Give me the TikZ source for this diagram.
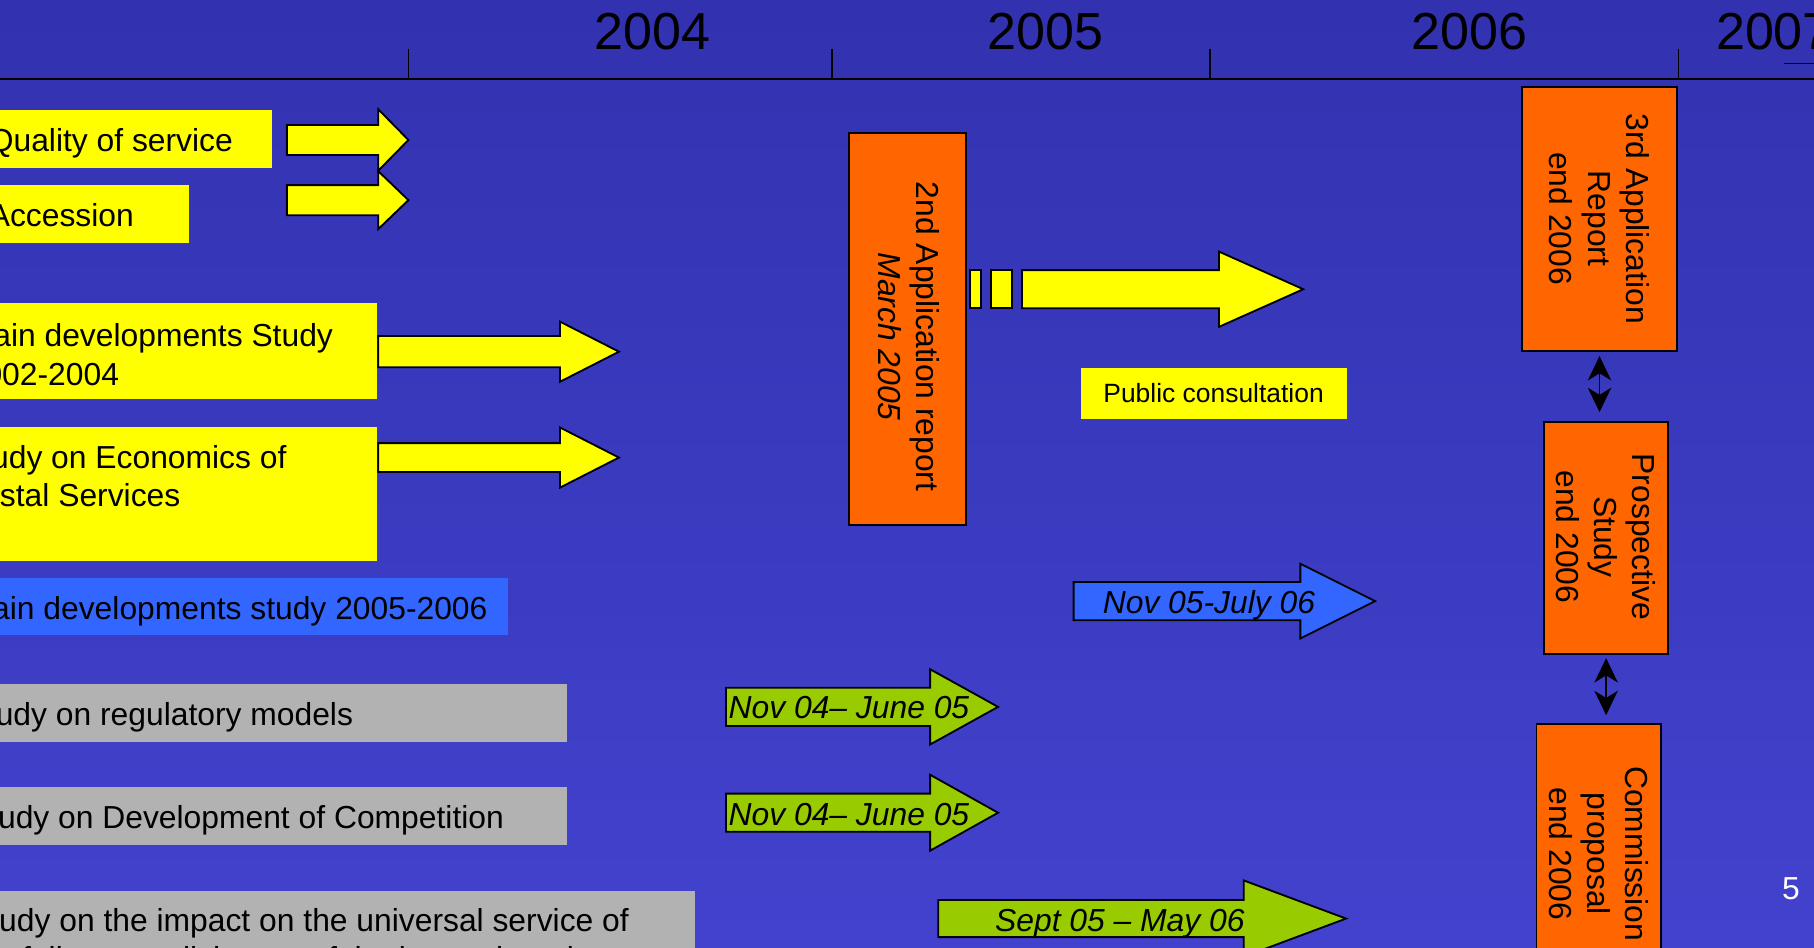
\documentclass[tikz,border=0pt]{standalone}
\usepackage{fontspec}
\setmainfont{Liberation Sans}
\usetikzlibrary{arrows.meta}

% block arrow: style, tail x, head x, tip x, mid y, half shaft, half head
\newcommand{\blockarrow}[7]{%
  \draw[#1] (#2,#5-#6) -- (#3,#5-#6) -- (#3,#5-#7) -- (#4,#5)
    -- (#3,#5+#7) -- (#3,#5+#6) -- (#2,#5+#6) -- cycle;}

\begin{document}
\begin{tikzpicture}[
  x=0.2mm, y=-0.2mm,
  font=\fontsize{15.65}{18.8}\selectfont,
  yearlabel/.style={font=\fontsize{25.6}{30}\selectfont,inner sep=0pt},
  rowtext/.style={anchor=west,inner sep=0pt,align=left},
  datetext/.style={inner sep=0pt,font=\fontsize{15.65}{18.8}\selectfont\itshape},
  reportbox/.style={draw=black,fill=report,line width=0.9pt,inner sep=0pt},
  reporttext/.style={rotate=-90,inner sep=0pt,align=center},
  arrowbody/.style={draw=black,line width=0.9pt},
  linkarrow/.style={{Stealth[length=12pt,width=11.5pt,inset=3.5pt]}-{Stealth[length=12pt,width=11.5pt,inset=3.5pt]},line width=0.8pt}
]
\definecolor{bgtop}{RGB}{50,50,176}
\definecolor{bgbottom}{RGB}{66,66,206}
\definecolor{marker}{RGB}{255,255,0}
\definecolor{report}{RGB}{255,102,0}
\definecolor{study}{RGB}{51,102,255}
\definecolor{period}{RGB}{153,204,0}
\definecolor{pending}{RGB}{178,178,178}

\useasboundingbox (0,0) rectangle (1568,819);
\clip (0,0) rectangle (1568,819);
\shade[top color=bgtop,bottom color=bgbottom] (0,0) rectangle (1568,819);

% Time axis with the years.
\draw[line width=1pt] (0,68) -- (1568,68);
\foreach \tx in {353,719,1046,1451}
  \draw[line width=0.7pt] (\tx,42) -- (\tx,68);
\draw[line width=0.7pt] (1542,55) -- (1568,55);
\node[yearlabel] (y2004) at (563.7,27.4) {2004};
\node[yearlabel] (y2005) at (903.8,27.4) {2005};
\node[yearlabel] (y2006) at (1270,27.4) {2006};
\node[yearlabel,anchor=west] (y2007) at (1483,27.4) {2007};

% Rows on the left, cut by the slide edge.
\fill[marker] (-40,95) rectangle (235,145);
\node[rowtext] (qos) at (-10,124) {Quality of service};
\fill[marker] (-40,160) rectangle (163,210);
\node[rowtext] (accession) at (-10,186) {Accession};
\fill[marker] (-40,262) rectangle (326,345);
\node[rowtext] (maindev) at (-29,306.5) {Main developments Study\\2002-2004};
\fill[marker] (-40,369) rectangle (326,485);
\node[rowtext] (economics) at (-34,411.5) {Study on Economics of\\Postal Services};
\fill[study] (-40,500) rectangle (439,549);
\node[rowtext] (maindevnew) at (-30,528) {Main developments study 2005-2006};
\fill[pending] (-40,591) rectangle (490,641);
\node[rowtext] (regmodels) at (-30,620) {Study on regulatory models};
\fill[pending] (-40,680) rectangle (490,730);
\node[rowtext] (competition) at (-28,709) {Study on Development of Competition};
\fill[pending] (-40,770) rectangle (600.5,880);
\node[rowtext] (impact) at (-27,814.4)
  {Study on the impact on the universal service of\\the full accomplishment of the internal market};

% Finished studies.
\blockarrow{arrowbody,fill=marker}{248}{327}{353}{121}{13}{26.5}
\blockarrow{arrowbody,fill=marker}{248}{327}{353}{173}{13}{25}
\blockarrow{arrowbody,fill=marker}{327}{484}{535}{304}{13.5}{26}
\blockarrow{arrowbody,fill=marker}{327}{484}{535}{395.5}{12.5}{26}

% Reports.
\node[reportbox,minimum width=20.2mm,minimum height=67.8mm] (rep2) at (784.5,284.5) {};
\node[reporttext] (rep2text) at (785.5,291) {2nd Application report\\\textit{March 2005}};
\node[reportbox,minimum width=26.8mm,minimum height=45.7mm] (rep3) at (1382.6,189.2) {};
\node[reporttext] (rep3text) at (1382.5,189) {3rd Application\\Report\\end 2006};
\node[reportbox,minimum width=21.5mm,minimum height=40.1mm] (prosp) at (1388.3,464.8) {};
\node[reporttext] (prosptext) at (1388,464) {Prospective\\Study\\end 2006};
\node[reportbox,minimum width=21.5mm,minimum height=44mm] (comm) at (1381.8,736) {};
\node[reporttext] (commtext) at (1382,738) {Commission\\proposal\\end 2006};
\draw[linkarrow,shorten <=0.7mm,shorten >=1.5mm] (rep3.south) -- (rep3.south |- prosp.north);
\draw[linkarrow,shorten <=0.6mm,shorten >=1.4mm] (prosp.south) -- (prosp.south |- comm.north);

% Public consultation after the second report.
\draw[arrowbody,fill=marker] (838.5,233.4) rectangle (847.7,266.4);
\draw[arrowbody,fill=marker] (856.3,233.4) rectangle (874.5,266.4);
\blockarrow{arrowbody,fill=marker}{883.4}{1053.7}{1126.5}{250}{16.5}{32.5}
\node[fill=marker,inner sep=0pt,minimum width=46mm,minimum height=8.8mm,text depth=0pt,
  font=\fontsize{13}{15}\selectfont] (pubcons) at (1049,340) {Public consultation};

% Running and planned studies.
\blockarrow{arrowbody,fill=study}{928}{1124}{1188.6}{519.6}{16.5}{32.3}
\node[datetext] (julyspan) at (1045,523) {Nov 05-July 06};
\blockarrow{arrowbody,fill=period}{627.5}{804}{862.7}{611}{16.5}{32.5}
\node[datetext,anchor=west] (regspan) at (629.5,612) {Nov 04– June 05};
\blockarrow{arrowbody,fill=period}{627.5}{804}{862.7}{702.5}{16.5}{32.8}
\node[datetext,anchor=west] (compspan) at (629.5,704) {Nov 04– June 05};
\blockarrow{arrowbody,fill=period}{811}{1075}{1163.5}{794}{16}{33}
\node[datetext] (impactspan) at (968,798) {Sept 05 – May 06};

\node[text=white,inner sep=0pt] (pageno) at (1548,768) {5};
\end{tikzpicture}
\end{document}
